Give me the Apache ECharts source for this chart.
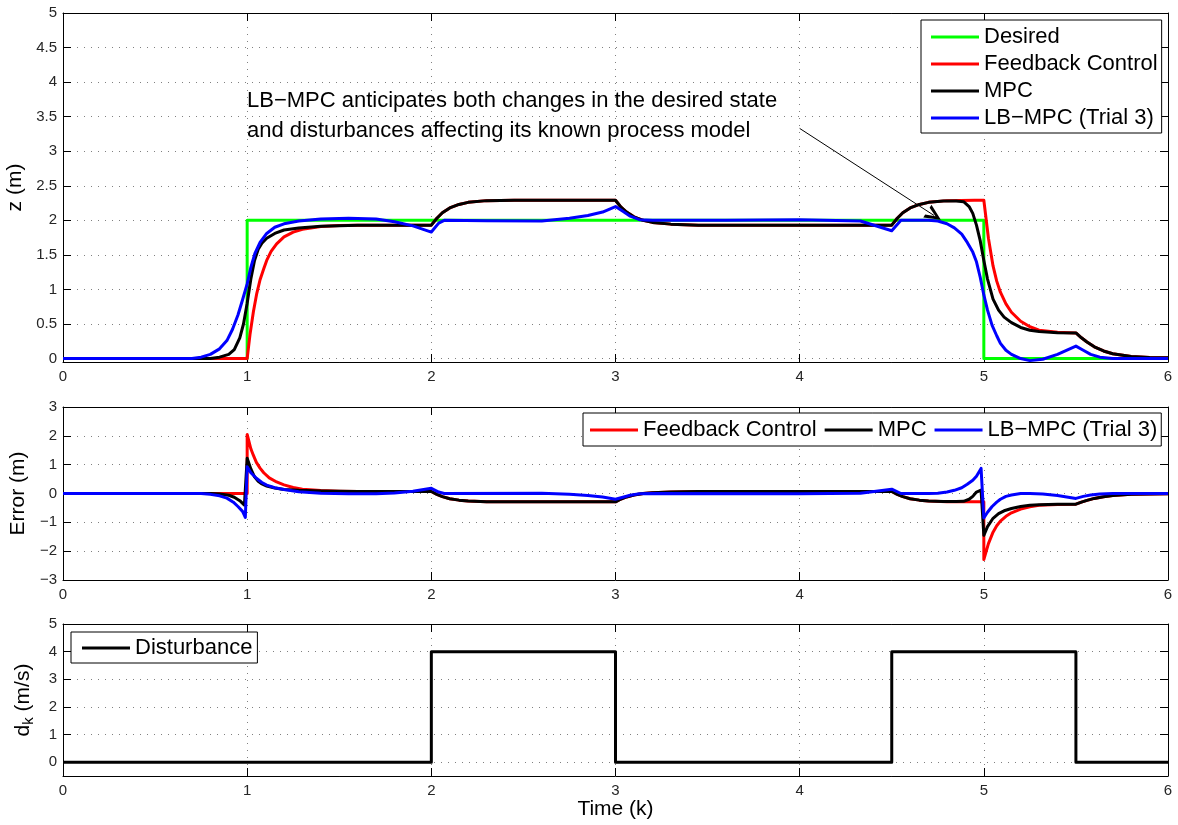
<!DOCTYPE html>
<html>
<head>
<meta charset="utf-8">
<title>LB-MPC step response</title>
<script src="https://cdn.jsdelivr.net/npm/echarts@6/dist/echarts.min.js"></script>
<style>
  html, body { margin: 0; padding: 0; background: #fff; }
  #chart { width: 1178px; height: 825px; }
</style>
</head>
<body>
<div id="chart"></div>
<script>
// ---- time-series data: [time, value] pairs ----
const desiredZ = [[0,0],[1,0],[1,2],[5,2],[5,0],[6,0]];

const feedbackZ = [[0,0],[1,0],[1.016,0.36],[1.034,0.68],[1.052,0.94],[1.07,1.14],[1.09,1.30],[1.106,1.42],
  [1.13,1.55],[1.16,1.66],[1.2,1.76],[1.25,1.83],[1.3,1.87],[1.4,1.91],[1.5,1.925],[1.6,1.93],[2,1.93],
  [2.03,2.03],[2.06,2.11],[2.1,2.18],[2.15,2.23],[2.2,2.26],[2.3,2.285],[2.45,2.29],[3,2.29],
  [3.03,2.19],[3.06,2.12],[3.1,2.05],[3.15,2.0],[3.2,1.97],[3.3,1.945],[3.45,1.93],[4.5,1.93],
  [4.53,2.03],[4.56,2.11],[4.6,2.18],[4.65,2.23],[4.7,2.26],[4.8,2.285],[4.95,2.29],[5.0,2.29],
  [5.025,1.74],[5.05,1.34],[5.07,1.12],[5.09,0.96],[5.12,0.79],[5.15,0.67],[5.2,0.54],[5.25,0.46],
  [5.3,0.41],[5.4,0.38],[5.5,0.37],[5.53,0.30],[5.56,0.24],[5.6,0.17],[5.65,0.11],[5.7,0.07],
  [5.8,0.03],[5.9,0.015],[6,0.01]];

const mpcZ = [[0,0],[0.8,0],[0.85,0.02],[0.9,0.06],[0.93,0.13],[0.96,0.30],[0.98,0.50],[1.0,0.80],
  [1.02,1.15],[1.04,1.42],[1.06,1.58],[1.08,1.67],[1.106,1.74],[1.15,1.81],[1.2,1.86],[1.28,1.89],
  [1.4,1.915],[1.6,1.93],[2,1.93],
  [2.03,2.03],[2.06,2.11],[2.1,2.18],[2.15,2.23],[2.2,2.26],[2.3,2.285],[2.45,2.29],[3,2.29],
  [3.03,2.19],[3.06,2.12],[3.1,2.05],[3.15,2.0],[3.2,1.97],[3.3,1.945],[3.45,1.93],[4.5,1.93],
  [4.53,2.03],[4.56,2.11],[4.6,2.18],[4.65,2.23],[4.7,2.26],[4.78,2.28],[4.85,2.28],[4.89,2.27],
  [4.92,2.20],[4.94,2.10],[4.96,1.93],[4.98,1.71],[5.0,1.42],[5.02,1.15],[5.05,0.86],[5.08,0.70],
  [5.11,0.60],[5.15,0.52],[5.2,0.45],[5.25,0.41],[5.3,0.39],[5.4,0.375],[5.5,0.37],
  [5.53,0.30],[5.56,0.24],[5.6,0.17],[5.65,0.11],[5.7,0.07],[5.8,0.03],[5.9,0.015],[6,0.01]];

const lbmpcZ = [[0,0],[0.7,0],[0.75,0.02],[0.8,0.06],[0.85,0.14],[0.89,0.26],[0.92,0.42],[0.95,0.63],
  [0.975,0.85],[1.0,1.08],[1.02,1.32],[1.042,1.52],[1.07,1.68],[1.106,1.81],[1.15,1.90],[1.2,1.95],
  [1.28,1.99],[1.4,2.02],[1.55,2.03],[1.7,2.02],[1.8,1.98],[1.9,1.92],[2.0,1.83],[2.04,1.96],
  [2.07,2.0],[2.3,1.995],[2.6,1.99],[2.75,2.03],[2.85,2.07],[2.93,2.12],[3.0,2.20],[3.04,2.13],
  [3.08,2.06],[3.13,2.01],[3.2,2.0],[3.6,2.0],[4.0,2.01],[4.33,1.99],[4.5,1.85],[4.55,2.0],
  [4.7,2.0],[4.75,1.99],[4.8,1.95],[4.84,1.89],[4.88,1.80],[4.91,1.68],[4.94,1.54],[4.96,1.40],
  [4.98,1.18],[5.0,0.92],[5.02,0.70],[5.045,0.48],[5.07,0.33],[5.09,0.22],[5.12,0.12],[5.15,0.06],
  [5.2,0.0],[5.25,-0.03],[5.32,-0.01],[5.4,0.06],[5.5,0.18],[5.54,0.12],[5.58,0.06],[5.63,0.02],
  [5.7,0.0],[6,0.0]];

const feedbackErr = [[0,0],[1,0],[1.0,2.05],[1.02,1.55],[1.034,1.32],[1.05,1.08],[1.07,0.88],[1.09,0.72],
  [1.12,0.54],[1.16,0.40],[1.2,0.30],[1.25,0.21],[1.3,0.15],[1.4,0.10],[1.5,0.08],[1.6,0.07],[2,0.07],
  [2.03,-0.03],[2.06,-0.11],[2.1,-0.18],[2.15,-0.23],[2.2,-0.26],[2.3,-0.285],[2.45,-0.29],[3,-0.29],
  [3.03,-0.19],[3.06,-0.12],[3.1,-0.05],[3.15,0.0],[3.2,0.03],[3.3,0.055],[3.45,0.07],[4.5,0.07],
  [4.53,-0.03],[4.56,-0.11],[4.6,-0.18],[4.65,-0.23],[4.7,-0.26],[4.8,-0.285],[5.0,-0.29],
  [5.0,-2.29],[5.025,-1.74],[5.05,-1.34],[5.07,-1.12],[5.09,-0.96],[5.12,-0.79],[5.15,-0.67],
  [5.2,-0.54],[5.25,-0.46],[5.3,-0.41],[5.4,-0.38],[5.5,-0.37],[5.53,-0.30],[5.56,-0.24],[5.6,-0.17],
  [5.65,-0.11],[5.7,-0.07],[5.8,-0.03],[5.9,-0.015],[6,-0.01]];

const mpcErr = [[0,0],[0.8,0],[0.85,-0.02],[0.9,-0.06],[0.93,-0.13],[0.96,-0.25],[0.985,-0.40],[0.995,-0.45],
  [1.0,1.22],[1.02,0.85],[1.04,0.58],[1.06,0.42],[1.08,0.33],[1.106,0.26],[1.15,0.19],[1.2,0.14],
  [1.28,0.11],[1.4,0.085],[1.6,0.07],[2,0.07],
  [2.03,-0.03],[2.06,-0.11],[2.1,-0.18],[2.15,-0.23],[2.2,-0.26],[2.3,-0.285],[2.45,-0.29],[3,-0.29],
  [3.03,-0.19],[3.06,-0.12],[3.1,-0.05],[3.15,0.0],[3.2,0.03],[3.3,0.055],[3.45,0.07],[4.5,0.07],
  [4.53,-0.03],[4.56,-0.11],[4.6,-0.18],[4.65,-0.23],[4.7,-0.26],[4.78,-0.28],[4.85,-0.28],[4.89,-0.27],
  [4.92,-0.20],[4.94,-0.10],[4.96,0.05],[4.985,0.12],[5.0,-1.45],[5.02,-1.15],[5.05,-0.86],[5.08,-0.70],
  [5.11,-0.60],[5.15,-0.52],[5.2,-0.45],[5.25,-0.41],[5.3,-0.39],[5.4,-0.375],[5.5,-0.37],
  [5.53,-0.30],[5.56,-0.24],[5.6,-0.17],[5.65,-0.11],[5.7,-0.07],[5.8,-0.03],[5.9,-0.015],[6,-0.01]];

const lbmpcErr = [[0,0],[0.75,0],[0.8,-0.03],[0.85,-0.08],[0.89,-0.16],[0.925,-0.30],[0.95,-0.45],
  [0.975,-0.62],[0.99,-0.83],[1.0,0.93],[1.02,0.72],[1.05,0.53],[1.08,0.38],[1.106,0.29],[1.15,0.20],
  [1.2,0.14],[1.28,0.06],[1.4,0.01],[1.55,-0.01],[1.7,-0.01],[1.8,0.02],[1.9,0.08],[2.0,0.18],
  [2.04,0.05],[2.07,0.0],[2.6,0.01],[2.75,-0.03],[2.85,-0.07],[2.93,-0.12],[3.0,-0.20],[3.04,-0.13],
  [3.08,-0.06],[3.13,-0.01],[3.2,0.0],[4.0,-0.01],[4.33,0.01],[4.5,0.15],[4.55,0.0],[4.7,0.0],
  [4.75,0.01],[4.8,0.05],[4.84,0.11],[4.88,0.20],[4.91,0.32],[4.94,0.46],[4.96,0.60],[4.985,0.87],
  [5.0,-0.85],[5.02,-0.65],[5.045,-0.45],[5.07,-0.30],[5.09,-0.20],[5.12,-0.10],[5.15,-0.05],
  [5.2,0.0],[5.25,0.0],[5.32,-0.02],[5.4,-0.07],[5.5,-0.17],[5.54,-0.10],[5.58,-0.05],[5.63,-0.02],
  [5.7,0.0],[6,0.0]];

const disturbance = [[0,0],[2,0],[2,4],[3,4],[3,0],[4.5,0],[4.5,4],[5.5,4],[5.5,0],[6,0]];

// annotation arrow endpoints, in (time, z) units
const arrowFrom = [4.0, 3.33];
const arrowTo = [4.73, 2.07];

const annotationLines = [
  'LB\u2212MPC anticipates both changes in the desired state',
  'and disturbances affecting its known process model'
];

const NAMES = {
  desired: 'Desired',
  fb: 'Feedback Control',
  mpc: 'MPC',
  lb: 'LB\u2212MPC (Trial 3)',
  dist: 'Disturbance'
};

// ---- styling ----
const FONT = '"Liberation Sans", Arial, Helvetica, sans-serif';
const TICK_COLOR = '#262626';
const gridLine = { show: true, lineStyle: { color: '#808080', width: 1, type: [1, 6] } };
const COLORS = { green: '#00ff00', red: '#ff0000', black: '#000000', blue: '#0000ff' };
// open chevron arrow head (points up in symbol space)
const OPEN_ARROW = 'path://M10,0 L20,20 L15.5,20 L10,8 L4.5,20 L0,20 Z';

const grids = [
  { left: 63, right: 10, top: 13, height: 349, outerBoundsMode: 'none', containLabel: false },
  { left: 63, right: 10, top: 407, height: 173, outerBoundsMode: 'none', containLabel: false },
  { left: 63, right: 10, top: 624, height: 152, outerBoundsMode: 'none', containLabel: false }
];

const yRanges = [
  { min: -0.05, max: 5, splitNumber: 10 },
  { min: -3, max: 3, interval: 1 },
  { min: -0.5, max: 5, splitNumber: 6 }
];

// tick labels use a true minus sign
const tickFormatter = v => String(v).replace('-', '\u2212');

function primaryX(gi, extra) {
  return Object.assign({
    type: 'value', gridIndex: gi, min: 0, max: 6, interval: 1, position: 'bottom',
    axisLine: { show: true, onZero: false, lineStyle: { color: '#000', width: 1 } },
    axisTick: { show: true, inside: true, length: 8, lineStyle: { color: '#000' } },
    axisLabel: { color: TICK_COLOR, fontSize: 15, fontFamily: FONT, margin: 7 },
    splitLine: gridLine
  }, extra || {});
}
function secondaryX(gi) {
  return {
    type: 'value', gridIndex: gi, min: 0, max: 6, interval: 1, position: 'top',
    axisLine: { show: true, onZero: false, lineStyle: { color: '#000', width: 1 } },
    axisTick: { show: true, inside: true, length: 8, lineStyle: { color: '#000' } },
    axisLabel: { show: false }, splitLine: { show: false }
  };
}
function primaryY(gi, name, nameGap, extra) {
  return Object.assign({
    type: 'value', gridIndex: gi, position: 'left',
    name: name, nameLocation: 'middle', nameGap: nameGap, nameRotate: 90,
    nameTextStyle: { fontSize: 21, fontFamily: FONT, color: '#000' },
    axisLine: { show: true, onZero: false, lineStyle: { color: '#000', width: 1 } },
    axisTick: { show: true, inside: true, length: 8, lineStyle: { color: '#000' } },
    axisLabel: { color: TICK_COLOR, fontSize: 15, fontFamily: FONT, margin: 6,
      showMinLabel: yRanges[gi].min === -3, formatter: tickFormatter },
    splitLine: gridLine
  }, yRanges[gi], extra || {});
}
function secondaryY(gi) {
  return Object.assign({
    type: 'value', gridIndex: gi, position: 'right',
    axisLine: { show: true, onZero: false, lineStyle: { color: '#000', width: 1 } },
    axisTick: { show: true, inside: true, length: 8, lineStyle: { color: '#000' } },
    axisLabel: { show: false }, splitLine: { show: false }
  }, yRanges[gi]);
}

function line(name, data, color, axisIdx, extra) {
  return Object.assign({
    type: 'line', name: name, data: data,
    xAxisIndex: axisIdx, yAxisIndex: axisIdx,
    showSymbol: false, symbol: 'none', animation: false,
    lineStyle: { color: color, width: 3, join: 'round' },
    itemStyle: { color: color },
    z: 3
  }, extra || {});
}

const legendText = { fontSize: 22, fontFamily: FONT, color: '#000', lineHeight: 22 };
const legendBase = {
  icon: 'rect', itemWidth: 48, itemHeight: 3,
  backgroundColor: '#fff', borderColor: '#000', borderWidth: 1, borderRadius: 0,
  textStyle: legendText, selectedMode: false, inactiveColor: '#000'
};

const option = {
  backgroundColor: '#fff',
  animation: false,
  grid: grids,
  xAxis: [
    primaryX(0), primaryX(1),
    primaryX(2, { name: 'Time (k)', nameLocation: 'middle', nameGap: 13,
      nameTextStyle: { fontSize: 21, fontFamily: FONT, color: '#000', verticalAlign: 'top' } }),
    secondaryX(0), secondaryX(1), secondaryX(2)
  ],
  yAxis: [
    primaryY(0, 'z (m)', 34),
    primaryY(1, 'Error (m)', 28),
    primaryY(2, 'd{s|k} (m/s)', 27, {
      nameTextStyle: { fontSize: 21, fontFamily: FONT, color: '#000',
        rich: { s: { fontSize: 15, fontFamily: FONT, color: '#000', padding: [10, 0, 0, 0] } } }
    }),
    secondaryY(0), secondaryY(1), secondaryY(2)
  ],
  legend: [
    Object.assign({}, legendBase, {
      orient: 'vertical', left: 921, top: 20, itemGap: 5, padding: [6, 4, 4, 10],
      data: [NAMES.desired, NAMES.fb, NAMES.mpc, NAMES.lb]
    }),
    Object.assign({}, legendBase, {
      orient: 'horizontal', left: 583, top: 413, itemGap: 8, padding: [6, 4, 5, 7],
      data: [NAMES.fb, NAMES.mpc, NAMES.lb]
    }),
    Object.assign({}, legendBase, {
      orient: 'horizontal', left: 71, top: 632, itemGap: 6, padding: [5, 5, 4, 11],
      data: [NAMES.dist]
    })
  ],
  graphic: [{
    type: 'text', left: 247, top: 86, z: 100,
    style: { text: annotationLines.join('\n'), font: '22px ' + FONT, lineHeight: 30, fill: '#000' }
  }],
  series: [
    line(NAMES.desired, desiredZ, COLORS.green, 0),
    line(NAMES.fb, feedbackZ, COLORS.red, 0),
    line(NAMES.mpc, mpcZ, COLORS.black, 0),
    line(NAMES.lb, lbmpcZ, COLORS.blue, 0, {
      markLine: {
        silent: true, animation: false, z: 10,
        symbol: ['none', OPEN_ARROW], symbolSize: [15, 16],
        label: { show: false },
        lineStyle: { color: '#000', width: 1, type: 'solid' },
        itemStyle: { color: '#000' },
        data: [[{ coord: arrowFrom }, { coord: arrowTo }]]
      }
    }),
    line(NAMES.fb, feedbackErr, COLORS.red, 1),
    line(NAMES.mpc, mpcErr, COLORS.black, 1),
    line(NAMES.lb, lbmpcErr, COLORS.blue, 1),
    line(NAMES.dist, disturbance, COLORS.black, 2)
  ]
};

const chart = echarts.init(document.getElementById('chart'), null, { renderer: 'canvas' });
chart.setOption(option);
</script>
</body>
</html>
